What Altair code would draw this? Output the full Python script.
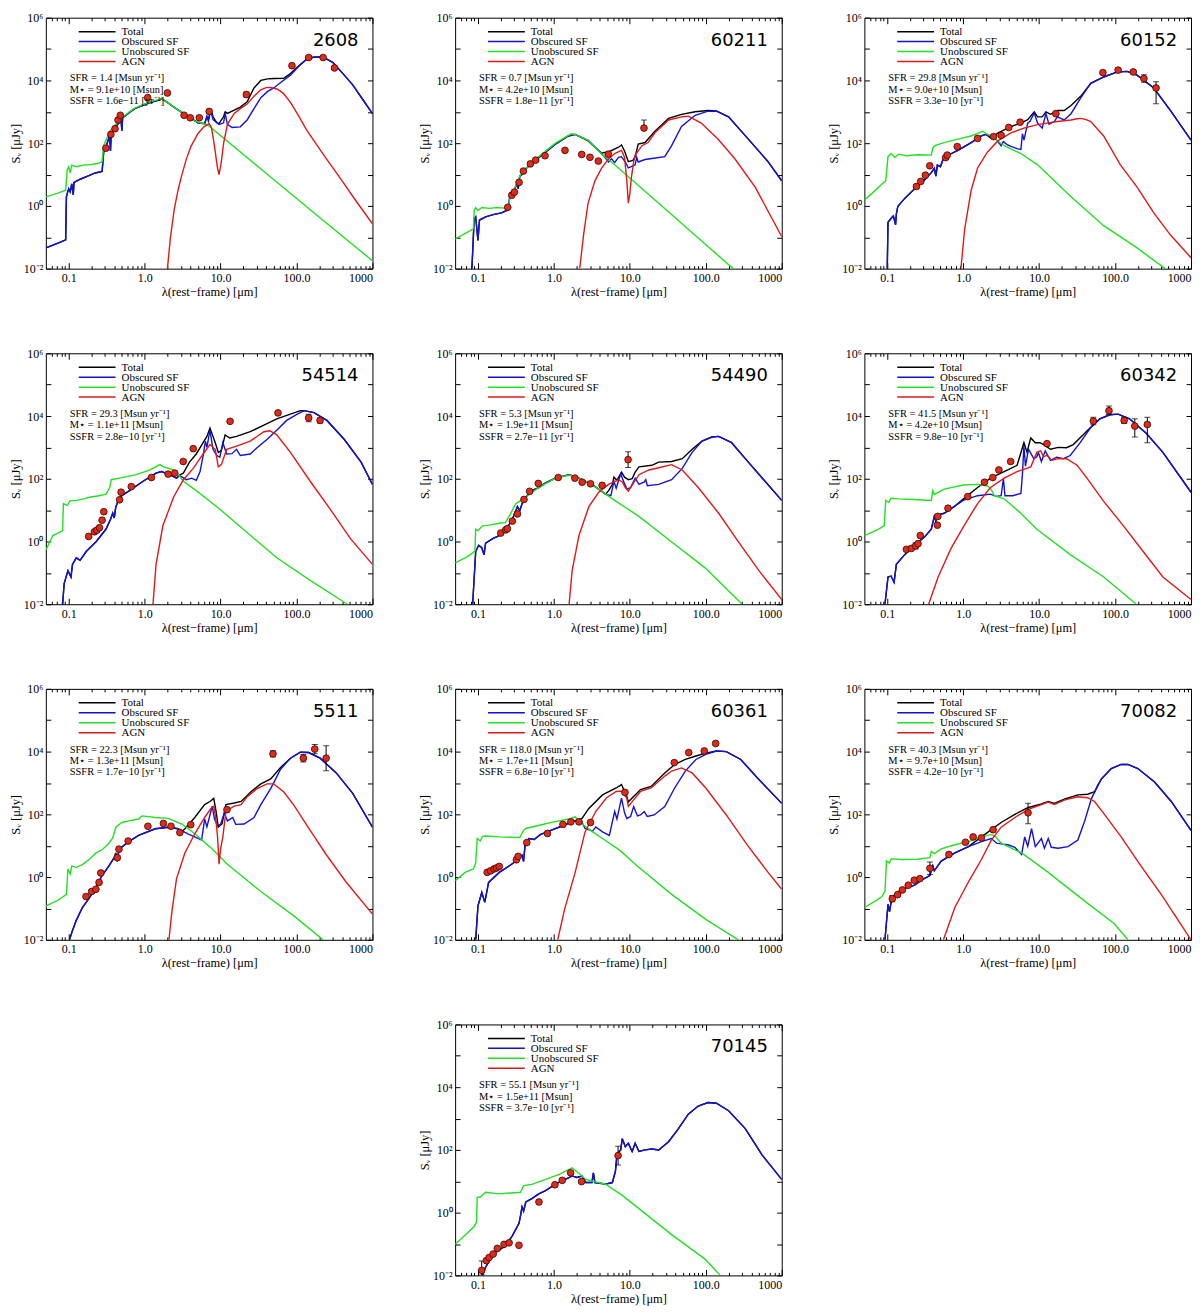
import altair as alt
import pandas as pd

# ---------------- shared labels / ticks ----------------
SERIES = ["Total", "Obscured SF", "Unobscured SF", "AGN"]
COLORS = ["#000000", "#1212d6", "#22e022", "#e01818"]

X_TICKS = [0.1, 1, 10, 100, 1000]
X_TICK_LABELS = ["0.1", "1.0", "10.0", "100.0", "1000"]
X_MINOR = [0.06, 0.07, 0.08, 0.09, 0.2, 0.3, 0.4, 0.5, 0.6, 0.7, 0.8, 0.9,
           2, 3, 4, 5, 6, 7, 8, 9, 20, 30, 40, 50, 60, 70, 80, 90,
           200, 300, 400, 500, 600, 700, 800, 900]
Y_TICKS = [1e-2, 1, 1e2, 1e4, 1e6]
Y_TICK_LABELS = ["10⁻²", "10⁰", "10²", "10⁴", "10⁶"]
Y_DECADES = [1e-2, 1e-1, 1, 10, 100, 1e3, 1e4, 1e5, 1e6]

X_TITLE = "λ(rest−frame) [μm]"
Y_TITLE = "Sᵥ [μJy]"

IDS = ["2608", "60211", "60152", "54514", "54490", "60342", "5511", "60361", "70082", "70145"]
SFR = ["1.4", "0.7", "29.8", "29.3", "5.3", "41.5", "22.3", "118.0", "40.3", "55.1"]
MSTAR = ["9.1e+10", "4.2e+10", "9.0e+10", "1.1e+11", "1.9e+11", "4.2e+10", "1.3e+11", "1.7e+11", "9.7e+10", "1.5e+11"]
SSFR = ["1.6e−11", "1.8e−11", "3.3e−10", "2.8e−10", "2.7e−11", "9.8e−10", "1.7e−10", "6.8e−10", "4.2e−10", "3.7e−10"]

# ---------------- curves: (log10 λ[µm], log10 S[µJy]) ----------------
# panel 2608
P2608_OBSC = [(-1.30,-1.34),(-1.10,-1.15),(-1.04,-1.08),(-1.03,0.30),(-1.00,0.55),(-0.98,0.45),(-0.96,0.70),(-0.94,0.35),(-0.93,0.75),(-0.85,0.85),(-0.75,0.95),(-0.65,1.05),(-0.56,1.10),(-0.54,1.70),(-0.50,1.95),(-0.46,2.25),(-0.45,1.75),(-0.44,2.30),(-0.40,2.45),(-0.35,2.62),(-0.31,2.72),(-0.30,2.40),(-0.29,2.80),(-0.20,2.98),(-0.13,3.10),(0.05,3.28),(0.20,3.38),(0.22,3.42),(0.30,3.30),(0.40,3.12),(0.48,3.00),(0.61,2.80),(0.70,2.65),(0.79,2.62),(0.82,2.85),(0.84,2.70),(0.87,3.05),(0.90,2.75),(0.98,2.60),(1.04,2.65),(1.06,2.95),(1.09,2.60),(1.15,2.50),(1.26,2.52),(1.35,2.74),(1.44,3.10),(1.53,3.45),(1.62,3.65),(1.70,3.76),(1.80,3.95),(1.92,4.17),(2.03,4.45),(2.13,4.67),(2.22,4.74),(2.31,4.75),(2.40,4.68),(2.48,4.57),(2.60,4.25),(2.74,3.86),(2.87,3.40),(3.00,2.94)]
P2608_UNOBSC = [(-1.30,0.29),(-1.15,0.40),(-1.04,0.50),(-1.02,1.15),(-1.00,1.25),(-0.98,1.05),(-0.96,1.30),(-0.90,1.25),(-0.80,1.30),(-0.70,1.32),(-0.62,1.35),(-0.56,1.41),(-0.54,1.92),(-0.50,2.15),(-0.45,2.40),(-0.40,2.55),(-0.35,2.68),(-0.30,2.80),(-0.20,3.00),(-0.13,3.12),(0.05,3.30),(0.22,3.42),(0.30,3.30),(0.48,3.00),(0.66,2.70),(0.83,2.58),(1.50,1.24),(2.20,-0.16),(3.00,-1.75)]
P2608_AGN = [(0.30,-2.00),(0.34,-1.00),(0.39,-0.10),(0.44,0.50),(0.48,0.90),(0.55,1.50),(0.61,1.90),(0.70,2.30),(0.78,2.52),(0.85,2.62),(0.88,2.50),(0.92,1.90),(0.96,1.20),(0.98,1.00),(1.01,1.40),(1.04,2.00),(1.09,2.60),(1.18,2.95),(1.26,3.10),(1.35,3.25),(1.44,3.50),(1.53,3.70),(1.60,3.77),(1.66,3.78),(1.75,3.72),(1.83,3.58),(1.92,3.30),(2.02,2.90),(2.13,2.43),(2.35,1.65),(2.57,0.90),(2.80,0.10),(3.00,-0.57)]
P2608_TOTAL_MID = [(0.84,2.75),(0.87,3.10),(0.90,2.85),(0.95,2.65),(0.98,2.62),(1.04,2.85),(1.06,3.00),(1.09,2.95),(1.18,3.05),(1.26,3.15),(1.35,3.32),(1.44,3.76),(1.53,4.00),(1.62,4.05),(1.70,4.06),(1.83,4.07),(1.92,4.22),(2.03,4.47)]
P2608_PTS = [(-0.51,1.84,0,0),(-0.445,2.28,0,0),(-0.39,2.46,0,0),(-0.35,2.74,0,0),(-0.32,2.89,0,0),(0.04,3.45,0,0),(0.30,3.60,0,0),(0.52,2.89,0,0),(0.60,2.81,0,0),(0.72,2.81,0,0),(0.85,3.01,0.05,0.05),(1.34,3.55,0.08,0.08),(1.94,4.47,0.05,0.05),(2.16,4.73,0.04,0.04),(2.35,4.73,0.04,0.04),(2.50,4.40,0.05,0.05)]

# panel 60211
P60211_OBSC = [(-1.08,-2.00),(-1.05,-0.42),(-1.03,-0.35),(-1.00,-1.10),(-0.98,-0.45),(-0.90,-0.35),(-0.80,-0.28),(-0.69,-0.22),(-0.60,-0.12),(-0.58,0.34),(-0.55,0.40),(-0.52,0.50),(-0.49,0.70),(-0.47,0.55),(-0.45,0.95),(-0.42,1.00),(-0.36,1.21),(-0.29,1.36),(-0.16,1.62),(0.02,1.97),(0.19,2.23),(0.28,2.28),(0.45,2.08),(0.63,1.67),(0.72,1.40),(0.76,1.50),(0.80,1.38),(0.85,1.55),(0.89,1.57),(0.94,1.40),(0.98,1.21),(1.02,1.25),(1.07,1.31),(1.09,1.55),(1.11,1.40),(1.20,1.48),(1.29,1.51),(1.46,1.57),(1.55,1.92),(1.68,2.53),(1.86,2.89),(2.03,3.02),(2.14,3.02),(2.30,2.84),(2.56,2.13),(2.82,1.41),(3.00,0.80)]
P60211_UNOBSC = [(-1.30,-1.05),(-1.15,-0.85),(-1.06,-0.73),(-1.05,-0.15),(-1.03,-0.05),(-1.00,-0.15),(-0.95,-0.05),(-0.85,-0.08),(-0.75,-0.05),(-0.65,-0.07),(-0.60,-0.05),(-0.58,0.27),(-0.52,0.55),(-0.45,0.95),(-0.36,1.21),(-0.29,1.40),(-0.16,1.65),(0.02,2.00),(0.19,2.25),(0.23,2.30),(0.28,2.28),(0.45,2.10),(0.63,1.65),(0.80,1.31),(1.50,-0.17),(2.36,-2.00)]
P60211_AGN = [(0.34,-2.00),(0.39,-0.93),(0.45,0.09),(0.54,0.80),(0.63,1.21),(0.72,1.50),(0.80,1.67),(0.89,1.77),(0.93,1.55),(0.96,0.80),(0.98,0.09),(1.00,0.40),(1.02,0.90),(1.05,1.40),(1.07,1.62),(1.16,1.92),(1.24,2.02),(1.33,2.33),(1.51,2.74),(1.68,2.84),(1.77,2.86),(1.94,2.64),(2.16,2.13),(2.38,1.51),(2.65,0.60),(3.00,-0.98)]
P60211_TOTAL_MID = [(0.65,1.70),(0.72,1.72),(0.85,1.87),(0.89,1.94),(0.93,1.75),(0.98,1.41),(1.04,1.45),(1.07,1.57),(1.11,1.97),(1.20,2.02),(1.33,2.38),(1.51,2.79),(1.68,2.92),(1.86,3.00),(2.03,3.04),(2.14,3.03)]
P60211_PTS = [(-0.608,-0.045,0,0),(-0.555,0.34,0,0),(-0.52,0.44,0,0),(-0.459,0.75,0,0),(-0.402,1.11,0,0),(-0.31,1.34,0,0),(-0.24,1.46,0,0),(-0.117,1.60,0,0),(0.146,1.77,0,0),(0.366,1.64,0,0),(0.475,1.55,0,0),(0.585,1.43,0,0),(0.716,1.65,0,0),(1.186,2.48,0,0.26)]

# panel 60152
P60152_OBSC = [(-1.00,-2.00),(-0.99,-0.52),(-0.95,-0.40),(-0.92,-0.32),(-0.89,-0.60),(-0.88,-0.25),(-0.86,-0.01),(-0.77,0.24),(-0.68,0.45),(-0.59,0.65),(-0.50,0.85),(-0.42,1.06),(-0.38,1.20),(-0.36,0.95),(-0.34,1.30),(-0.30,1.25),(-0.27,1.45),(-0.24,1.57),(-0.07,1.77),(0.105,2.02),(0.24,2.23),(0.30,2.28),(0.43,2.13),(0.50,1.92),(0.53,2.05),(0.58,1.95),(0.63,1.90),(0.72,1.82),(0.76,1.80),(0.78,2.30),(0.80,2.10),(0.85,2.64),(0.88,2.70),(0.935,2.96),(0.98,2.64),(1.04,2.48),(1.09,2.94),(1.13,2.60),(1.20,2.69),(1.24,2.84),(1.33,2.74),(1.42,2.94),(1.55,3.45),(1.68,3.91),(1.85,4.11),(2.03,4.27),(2.16,4.29),(2.29,4.17),(2.51,3.76),(2.73,3.04),(3.00,2.10)]
P60152_UNOBSC = [(-1.30,0.19),(-1.20,0.40),(-1.07,0.70),(-1.02,0.80),(-0.99,1.57),(-0.95,1.67),(-0.90,1.55),(-0.85,1.65),(-0.75,1.60),(-0.60,1.63),(-0.42,1.62),(-0.40,1.85),(-0.375,1.92),(-0.25,2.02),(-0.07,2.13),(0.105,2.23),(0.26,2.38),(0.30,2.30),(0.37,2.23),(0.54,1.92),(0.76,1.67),(0.98,1.31),(1.42,0.29),(1.85,-0.63),(2.29,-1.34),(2.66,-2.00)]
P60152_AGN = [(-0.03,-2.00),(0.02,-0.73),(0.105,0.50),(0.19,1.21),(0.32,1.72),(0.46,2.08),(0.63,2.33),(0.80,2.48),(0.98,2.59),(1.24,2.69),(1.42,2.74),(1.50,2.78),(1.55,2.79),(1.62,2.75),(1.68,2.69),(1.85,2.23),(2.07,1.31),(2.29,0.60),(2.51,-0.22),(2.73,-0.93),(3.00,-1.65)]
P60152_TOTAL_MID = [(0.37,2.15),(0.46,2.33),(0.63,2.53),(0.76,2.64),(0.85,2.75),(0.935,3.00),(0.98,2.84),(1.04,2.84),(1.09,3.00),(1.15,2.92),(1.24,3.04),(1.33,3.04),(1.42,3.20),(1.55,3.50)]
P60152_PTS = [(-0.615,0.62,0,0),(-0.559,0.78,0,0),(-0.497,0.98,0,0),(-0.44,1.28,0,0),(-0.231,1.54,0,0),(-0.21,1.62,0,0),(-0.078,1.89,0,0),(0.19,2.15,0,0),(0.40,2.21,0,0),(0.50,2.25,0,0),(0.60,2.50,0,0),(0.75,2.67,0,0),(1.22,2.94,0,0),(1.84,4.25,0.05,0.05),(2.04,4.33,0.04,0.04),(2.24,4.27,0.05,0.05),(2.38,4.06,0.12,0.12),(2.54,3.76,0.5,0.2)]

# panel 54514
P54514_OBSC = [(-1.08,-2.00),(-1.06,-1.34),(-1.01,-0.93),(-0.97,-1.13),(-0.95,-0.73),(-0.90,-0.52),(-0.85,-0.60),(-0.77,-0.32),(-0.64,-0.01),(-0.51,0.39),(-0.45,0.70),(-0.42,0.90),(-0.40,0.75),(-0.38,1.10),(-0.33,1.41),(-0.20,1.62),(-0.02,1.92),(0.15,2.18),(0.22,2.23),(0.33,2.13),(0.42,2.02),(0.46,2.10),(0.55,1.97),(0.62,2.02),(0.68,1.95),(0.73,2.23),(0.77,2.74),(0.80,3.20),(0.82,3.00),(0.86,3.55),(0.90,2.94),(0.95,2.74),(0.99,2.69),(1.03,3.15),(1.08,2.79),(1.15,2.80),(1.21,2.94),(1.26,2.74),(1.39,2.79),(1.48,2.99),(1.61,3.25),(1.74,3.55),(1.87,3.86),(2.01,4.06),(2.10,4.17),(2.23,4.11),(2.40,3.86),(2.63,3.25),(2.85,2.53),(3.00,1.82)]
P54514_UNOBSC = [(-1.30,-0.27),(-1.21,0.19),(-1.12,0.29),(-1.08,0.35),(-1.07,1.21),(-1.02,1.15),(-0.98,1.30),(-0.90,1.31),(-0.80,1.36),(-0.73,1.41),(-0.62,1.45),(-0.51,1.51),(-0.46,1.72),(-0.44,1.97),(-0.33,2.02),(-0.11,2.13),(0.07,2.28),(0.20,2.45),(0.25,2.38),(0.38,2.28),(0.46,2.08),(0.51,1.92),(0.68,1.62),(0.95,1.11),(1.30,0.39),(1.74,-0.52),(2.18,-1.24),(2.67,-2.00)]
P54514_AGN = [(0.11,-2.00),(0.15,-0.73),(0.24,0.50),(0.38,1.41),(0.51,1.97),(0.64,2.33),(0.77,2.79),(0.86,3.09),(0.93,2.94),(0.97,2.38),(1.01,2.45),(1.08,2.94),(1.21,3.04),(1.39,3.20),(1.57,3.50),(1.65,3.53),(1.74,3.40),(1.92,2.84),(2.18,1.92),(2.45,1.01),(2.71,0.09),(3.00,-0.73)]
P54514_TOTAL_MID = [(0.46,2.12),(0.51,2.18),(0.59,2.53),(0.68,2.79),(0.77,3.15),(0.82,3.35),(0.86,3.62),(0.93,3.15),(0.97,2.84),(1.01,2.90),(1.06,3.40),(1.12,3.30),(1.21,3.35),(1.39,3.50),(1.57,3.71),(1.74,3.91),(1.92,4.06),(2.05,4.17)]
P54514_PTS = [(-0.737,0.16,0,0),(-0.661,0.31,0,0),(-0.63,0.36,0,0),(-0.595,0.44,0,0),(-0.56,0.68,0,0),(-0.538,0.95,0,0),(-0.33,1.33,0,0),(-0.31,1.57,0,0),(-0.176,1.75,0,0),(0.089,2.04,0,0),(0.309,2.15,0,0),(0.397,2.18,0,0),(0.508,2.55,0,0),(0.64,2.96,0,0),(1.125,3.83,0,0),(1.756,4.10,0,0),(2.16,3.94,0.12,0.12),(2.31,3.86,0.08,0.08)]

# panel 54490
P54490_OBSC = [(-1.07,-2.00),(-1.03,-0.32),(-0.99,-0.12),(-0.95,-0.20),(-0.92,-0.42),(-0.90,-0.05),(-0.80,0.10),(-0.72,0.19),(-0.64,0.34),(-0.55,0.70),(-0.48,1.11),(-0.45,0.98),(-0.42,1.20),(-0.37,1.41),(-0.29,1.62),(-0.20,1.72),(-0.11,1.87),(0.02,2.02),(0.20,2.13),(0.33,2.02),(0.50,1.82),(0.68,1.51),(0.75,1.46),(0.79,1.92),(0.82,1.70),(0.88,2.15),(0.92,1.90),(0.96,1.67),(1.01,1.72),(1.07,2.02),(1.12,1.82),(1.19,1.90),(1.21,1.97),(1.23,1.78),(1.38,1.82),(1.55,1.97),(1.69,2.33),(1.82,2.84),(1.95,3.20),(2.08,3.33),(2.17,3.35),(2.34,3.15),(2.56,2.53),(2.78,1.92),(3.00,1.31)]
P54490_UNOBSC = [(-1.30,-0.68),(-1.15,-0.50),(-1.07,-0.37),(-1.04,-0.30),(-1.03,0.39),(-1.00,0.35),(-0.94,0.50),(-0.85,0.52),(-0.72,0.58),(-0.64,0.60),(-0.59,0.80),(-0.50,1.21),(-0.37,1.41),(-0.20,1.72),(0.02,2.02),(0.20,2.11),(0.29,2.06),(0.42,1.92),(0.59,1.67),(0.77,1.36),(1.12,0.80),(1.56,-0.03),(1.99,-0.84),(2.48,-2.00)]
P54490_AGN = [(0.20,-2.00),(0.24,-0.93),(0.33,0.19),(0.46,1.11),(0.59,1.57),(0.72,1.82),(0.85,1.97),(0.90,1.90),(0.94,1.72),(0.98,1.61),(1.03,1.80),(1.12,2.13),(1.25,2.28),(1.38,2.35),(1.55,2.45),(1.69,2.28),(1.90,1.72),(2.17,0.90),(2.43,-0.01),(2.70,-0.93),(3.00,-1.85)]
P54490_TOTAL_MID = [(0.72,1.62),(0.77,1.82),(0.79,2.05),(0.83,1.95),(0.89,2.21),(0.93,2.05),(0.98,1.97),(1.03,2.00),(1.07,2.21),(1.12,2.38),(1.29,2.43),(1.38,2.53),(1.55,2.55),(1.69,2.64),(1.82,2.94)]
P54490_PTS = [(-0.70,0.27,0,0),(-0.635,0.37,0,0),(-0.613,0.41,0,0),(-0.547,0.65,0,0),(-0.48,0.88,0,0),(-0.394,1.34,0,0),(-0.32,1.60,0,0),(-0.206,1.85,0,0),(0.057,2.04,0,0),(0.276,2.02,0,0),(0.372,1.89,0,0),(0.482,1.84,0,0),(0.635,1.79,0,0),(0.977,2.61,0.25,0.25)]

# panel 60342
P60342_OBSC = [(-1.03,-2.00),(-0.99,-1.13),(-0.95,-1.10),(-0.91,-1.30),(-0.88,-0.73),(-0.77,-0.42),(-0.64,-0.12),(-0.51,0.14),(-0.42,0.39),(-0.38,0.80),(-0.36,0.65),(-0.33,0.85),(-0.25,0.90),(-0.12,1.11),(0.00,1.31),(0.19,1.46),(0.36,1.51),(0.43,1.44),(0.50,1.46),(0.53,2.00),(0.55,1.46),(0.65,1.46),(0.76,1.53),(0.78,2.13),(0.80,3.04),(0.82,2.40),(0.86,2.94),(0.93,2.64),(0.97,2.70),(0.99,2.84),(1.03,2.55),(1.08,2.89),(1.15,2.59),(1.23,2.69),(1.32,2.64),(1.41,2.74),(1.54,3.15),(1.67,3.60),(1.80,3.91),(1.93,4.04),(2.04,4.06),(2.19,3.91),(2.41,3.45),(2.63,2.84),(3.00,1.57)]
P60342_UNOBSC = [(-1.30,0.19),(-1.12,0.39),(-1.04,0.50),(-1.02,1.31),(-0.98,1.25),(-0.95,1.38),(-0.86,1.36),(-0.65,1.34),(-0.42,1.31),(-0.40,1.62),(-0.38,1.50),(-0.25,1.67),(0.00,1.80),(0.19,1.82),(0.32,1.77),(0.36,1.70),(0.41,1.46),(0.54,1.36),(0.76,0.90),(0.97,0.39),(1.41,-0.42),(1.85,-1.13),(2.28,-2.00)]
P60342_AGN = [(-0.455,-2.00),(-0.33,-1.13),(-0.16,-0.22),(0.01,0.50),(0.19,1.21),(0.36,1.72),(0.54,2.02),(0.71,2.23),(0.89,2.38),(0.97,2.84),(1.02,2.89),(1.06,2.70),(1.10,2.75),(1.17,2.59),(1.25,2.64),(1.36,2.64),(1.50,2.43),(1.63,2.02),(1.84,1.31),(2.11,0.50),(2.37,-0.32),(2.63,-1.13),(3.00,-1.85)]
P60342_TOTAL_MID = [(0.00,1.35),(0.19,1.72),(0.36,2.02),(0.54,2.23),(0.71,2.43),(0.80,3.15),(0.84,2.85),(0.89,3.30),(0.95,3.15),(1.01,3.15),(1.06,3.09),(1.15,2.94),(1.25,3.00),(1.36,2.99),(1.45,3.09),(1.58,3.40),(1.71,3.71)]
P60342_PTS = [(-0.748,-0.25,0,0),(-0.682,-0.22,0,0),(-0.626,-0.14,0.1,0.1),(-0.595,-0.07,0,0),(-0.565,0.19,0,0),(-0.34,0.52,0,0),(-0.334,0.80,0,0),(-0.20,1.06,0,0),(0.06,1.43,0,0),(0.28,1.89,0,0),(0.39,2.04,0,0),(0.47,2.28,0,0),(0.625,2.55,0,0),(1.104,3.12,0,0),(1.714,3.84,0.12,0.12),(1.92,4.17,0.12,0.15),(2.12,3.86,0.1,0.1),(2.26,3.68,0.35,0.23),(2.425,3.73,0.58,0.23)]

# panel 5511
P5511_OBSC = [(-0.99,-2.00),(-0.95,-1.70),(-0.90,-1.38),(-0.82,-0.97),(-0.73,-0.67),(-0.64,-0.31),(-0.56,0.05),(-0.47,0.36),(-0.42,0.55),(-0.40,0.62),(-0.38,0.77),(-0.36,0.50),(-0.34,0.85),(-0.32,0.92),(-0.21,1.13),(-0.08,1.33),(0.14,1.54),(0.31,1.59),(0.44,1.54),(0.57,1.38),(0.66,1.28),(0.75,1.18),(0.79,1.85),(0.82,1.60),(0.89,2.26),(0.92,1.85),(0.96,1.64),(1.00,1.68),(1.05,2.05),(1.09,1.79),(1.16,1.90),(1.20,1.68),(1.31,1.69),(1.44,1.90),(1.53,2.31),(1.66,2.82),(1.79,3.44),(1.92,3.79),(2.05,3.98),(2.16,3.97),(2.31,3.79),(2.52,3.33),(2.74,2.67),(3.00,1.59)]
P5511_UNOBSC = [(-1.30,-0.92),(-1.15,-0.75),(-1.07,-0.62),(-1.03,-0.55),(-1.01,0.26),(-0.98,0.10),(-0.96,0.35),(-0.90,0.31),(-0.82,0.40),(-0.73,0.56),(-0.64,0.77),(-0.56,0.87),(-0.47,1.08),(-0.42,1.25),(-0.38,1.59),(-0.30,1.74),(-0.21,1.79),(-0.08,1.85),(-0.035,1.95),(0.14,1.90),(0.31,1.87),(0.49,1.69),(0.66,1.38),(0.88,0.92),(1.09,0.41),(1.53,-0.46),(1.96,-1.23),(2.35,-2.00)]
P5511_AGN = [(0.32,-2.00),(0.36,-1.08),(0.42,-0.05),(0.53,0.77),(0.66,1.38),(0.79,1.90),(0.88,2.21),(0.91,2.26),(0.94,1.80),(0.96,1.28),(0.98,0.41),(1.00,0.90),(1.03,1.28),(1.07,2.10),(1.18,2.26),(1.27,2.31),(1.35,2.56),(1.48,2.82),(1.61,2.97),(1.70,2.97),(1.83,2.72),(1.96,2.31),(2.18,1.49),(2.39,0.72),(2.65,-0.15),(3.00,-1.18)]
P5511_TOTAL_MID = [(0.49,1.45),(0.53,1.54),(0.66,1.90),(0.79,2.31),(0.86,2.41),(0.91,2.51),(0.94,2.10),(0.97,1.59),(1.02,1.70),(1.07,2.31),(1.18,2.36),(1.27,2.41),(1.40,2.72),(1.53,2.97),(1.66,3.13),(1.79,3.49)]
P5511_PTS = [(-0.772,-0.62,0,0),(-0.698,-0.46,0,0),(-0.642,-0.39,0,0),(-0.60,-0.17,0,0),(-0.577,0.13,0,0),(-0.36,0.62,0,0),(-0.338,0.89,0,0),(-0.217,1.15,0,0),(0.043,1.62,0,0),(0.247,1.71,0,0),(0.347,1.62,0,0),(0.464,1.42,0,0),(0.607,1.67,0,0),(1.084,2.15,0,0),(1.69,3.93,0.1,0.1),(2.09,3.79,0.12,0.12),(2.24,4.08,0.15,0.15),(2.39,3.79,0.4,0.4)]

# panel 60361
P60361_OBSC = [(-1.03,-2.00),(-1.00,-0.92),(-0.95,-0.49),(-0.91,-0.80),(-0.86,-0.17),(-0.72,0.15),(-0.58,0.37),(-0.49,0.53),(-0.42,0.69),(-0.40,0.50),(-0.38,1.01),(-0.33,1.23),(-0.26,1.20),(-0.18,1.35),(-0.04,1.49),(0.14,1.66),(0.28,1.80),(0.37,1.75),(0.41,1.55),(0.51,1.46),(0.55,1.60),(0.64,1.44),(0.73,1.33),(0.80,2.09),(0.83,1.85),(0.89,2.52),(0.93,2.05),(0.96,1.87),(1.01,1.93),(1.05,2.25),(1.10,1.95),(1.14,1.98),(1.19,2.09),(1.23,1.93),(1.32,1.98),(1.46,2.25),(1.59,2.84),(1.73,3.38),(1.87,3.75),(2.00,3.91),(2.14,4.02),(2.27,4.00),(2.46,3.75),(2.68,3.16),(3.00,2.35)]
P60361_UNOBSC = [(-1.30,-0.12),(-1.17,0.15),(-1.06,0.26),(-1.03,0.45),(-1.01,1.23),(-0.97,1.15),(-0.94,1.30),(-0.90,1.31),(-0.72,1.28),(-0.45,1.26),(-0.40,1.49),(-0.37,1.55),(-0.18,1.66),(0.00,1.76),(0.19,1.85),(0.28,1.92),(0.33,1.82),(0.39,1.66),(0.51,1.44),(0.64,1.23),(0.87,0.85),(1.09,0.37),(1.55,-0.55),(2.00,-1.35),(2.46,-2.05)]
P60361_AGN = [(0.05,-2.00),(0.14,-1.03),(0.28,0.15),(0.41,1.44),(0.55,2.09),(0.69,2.52),(0.82,2.73),(0.89,2.74),(0.96,2.52),(0.98,2.25),(1.05,2.46),(1.14,2.73),(1.28,2.84),(1.46,3.22),(1.55,3.38),(1.68,3.48),(1.82,3.32),(2.00,2.84),(2.27,1.98),(2.55,1.01),(2.82,0.15),(3.00,-0.39)]
P60361_TOTAL_MID = [(0.37,1.87),(0.46,2.19),(0.64,2.62),(0.82,2.84),(0.89,2.95),(0.96,2.57),(0.98,2.40),(1.05,2.57),(1.14,2.79),(1.28,2.89),(1.46,3.32),(1.59,3.59),(1.73,3.75),(1.87,3.86),(2.00,3.95)]
P60361_PTS = [(-0.879,0.15,0,0),(-0.834,0.20,0,0),(-0.788,0.26,0,0),(-0.757,0.29,0,0),(-0.72,0.34,0,0),(-0.494,0.55,0,0),(-0.471,0.66,0,0),(-0.357,1.10,0,0),(-0.085,1.39,0,0),(0.119,1.68,0,0),(0.223,1.76,0,0),(0.33,1.76,0,0),(0.482,1.74,0,0),(0.936,2.70,0,0),(1.585,3.65,0,0),(1.775,3.97,0,0),(1.98,4.02,0.05,0.05),(2.13,4.26,0.05,0.05)]

# panel 70082
P70082_OBSC = [(-1.03,-2.00),(-0.99,-0.87),(-0.97,-1.10),(-0.94,-0.67),(-0.85,-0.46),(-0.77,-0.36),(-0.64,-0.26),(-0.55,-0.10),(-0.44,0.05),(-0.40,0.36),(-0.38,0.20),(-0.29,0.51),(-0.11,0.77),(0.07,0.97),(0.24,1.13),(0.37,1.23),(0.44,1.08),(0.52,1.05),(0.59,1.03),(0.68,0.95),(0.77,0.72),(0.81,1.28),(0.85,0.98),(0.90,1.54),(0.95,0.97),(1.03,1.23),(1.07,0.92),(1.12,1.23),(1.16,0.95),(1.25,0.92),(1.38,0.97),(1.51,1.18),(1.60,1.79),(1.69,2.51),(1.82,3.13),(1.95,3.46),(2.08,3.59),(2.17,3.59),(2.30,3.46),(2.52,3.03),(2.74,2.41),(3.00,1.49)]
P70082_UNOBSC = [(-1.30,-0.97),(-1.15,-0.75),(-1.07,-0.62),(-1.03,-0.45),(-1.01,0.51),(-0.97,0.45),(-0.95,0.58),(-0.81,0.56),(-0.60,0.57),(-0.44,0.62),(-0.42,0.82),(-0.38,0.75),(-0.29,0.90),(-0.11,1.03),(0.07,1.13),(0.24,1.28),(0.37,1.36),(0.42,1.30),(0.50,1.08),(0.68,0.87),(0.77,0.77),(1.12,0.15),(1.55,-0.67),(1.99,-1.49),(2.17,-2.00)]
P70082_AGN = [(-0.26,-2.00),(-0.11,-0.97),(0.07,-0.15),(0.24,0.56),(0.37,1.18),(0.50,1.59),(0.68,1.90),(0.85,2.15),(1.03,2.31),(1.12,2.39),(1.20,2.31),(1.34,2.46),(1.51,2.56),(1.64,2.53),(1.73,2.41),(1.86,2.00),(2.08,1.28),(2.34,0.36),(2.61,-0.56),(3.00,-2.00)]
P70082_TOTAL_MID = [(0.24,1.28),(0.33,1.44),(0.50,1.74),(0.68,2.00),(0.85,2.21),(1.03,2.33),(1.12,2.41),(1.20,2.35),(1.34,2.49),(1.51,2.62),(1.64,2.64),(1.73,2.72),(1.77,2.92)]
P70082_PTS = [(-0.933,-0.69,0.1,0.1),(-0.863,-0.56,0,0),(-0.80,-0.41,0,0),(-0.723,-0.26,0,0),(-0.644,-0.10,0,0),(-0.57,-0.05,0,0),(-0.438,0.28,0.2,0.2),(-0.188,0.72,0,0),(0.03,1.11,0,0),(0.131,1.28,0,0),(0.24,1.25,0,0),(0.394,1.51,0,0),(0.854,2.05,0.35,0.3)]

# panel 70145 (no AGN component)
P70145_OBSC = [(-0.94,-2.00),(-0.90,-1.74),(-0.84,-1.50),(-0.77,-1.27),(-0.64,-1.06),(-0.55,-0.75),(-0.46,-0.34),(-0.44,-0.10),(-0.42,0.18),(-0.40,0.05),(-0.37,0.34),(-0.29,0.45),(-0.20,0.60),(-0.11,0.70),(0.02,0.91),(0.15,1.06),(0.24,1.17),(0.30,1.12),(0.37,1.17),(0.42,0.96),(0.50,0.96),(0.52,1.27),(0.54,0.96),(0.68,0.91),(0.77,0.96),(0.81,1.32),(0.83,1.84),(0.86,1.95),(0.88,2.00),(0.90,2.36),(0.94,2.10),(0.98,2.21),(1.03,1.95),(1.07,2.21),(1.12,1.95),(1.20,2.00),(1.29,2.03),(1.38,2.00),(1.51,2.26),(1.64,2.68),(1.77,3.14),(1.90,3.40),(2.03,3.51),(2.14,3.49),(2.30,3.25),(2.52,2.68),(2.74,1.84),(3.00,1.06)]
P70145_UNOBSC = [(-1.30,-1.01),(-1.16,-0.70),(-1.05,-0.44),(-1.02,-0.30),(-1.01,0.49),(-0.97,0.50),(-0.90,0.65),(-0.72,0.60),(-0.44,0.65),(-0.40,0.86),(-0.29,0.90),(-0.11,1.06),(0.07,1.22),(0.20,1.38),(0.24,1.43),(0.33,1.25),(0.42,1.06),(0.50,1.01),(0.68,0.91),(0.90,0.55),(1.12,0.13),(1.55,-0.70),(1.99,-1.48),(2.19,-2.00)]
P70145_AGN = []
P70145_TOTAL_MID = []
P70145_PTS = [(-0.951,-1.84,0.15,0.3),(-0.89,-1.53,0,0),(-0.854,-1.43,0,0),(-0.80,-1.32,0,0),(-0.745,-1.14,0,0),(-0.657,-1.01,0,0),(-0.59,-0.96,0,0),(-0.46,-1.04,0,0),(-0.197,0.34,0,0),(0.013,0.89,0,0),(0.11,1.03,0,0),(0.22,1.27,0,0),(0.364,0.99,0,0),(0.845,1.82,0.3,0.3)]

PANELS = [
    (P2608_OBSC, P2608_UNOBSC, P2608_AGN, P2608_TOTAL_MID, P2608_PTS),
    (P60211_OBSC, P60211_UNOBSC, P60211_AGN, P60211_TOTAL_MID, P60211_PTS),
    (P60152_OBSC, P60152_UNOBSC, P60152_AGN, P60152_TOTAL_MID, P60152_PTS),
    (P54514_OBSC, P54514_UNOBSC, P54514_AGN, P54514_TOTAL_MID, P54514_PTS),
    (P54490_OBSC, P54490_UNOBSC, P54490_AGN, P54490_TOTAL_MID, P54490_PTS),
    (P60342_OBSC, P60342_UNOBSC, P60342_AGN, P60342_TOTAL_MID, P60342_PTS),
    (P5511_OBSC, P5511_UNOBSC, P5511_AGN, P5511_TOTAL_MID, P5511_PTS),
    (P60361_OBSC, P60361_UNOBSC, P60361_AGN, P60361_TOTAL_MID, P60361_PTS),
    (P70082_OBSC, P70082_UNOBSC, P70082_AGN, P70082_TOTAL_MID, P70082_PTS),
    (P70145_OBSC, P70145_UNOBSC, P70145_AGN, P70145_TOTAL_MID, P70145_PTS),
]

# ---------------- chart construction ----------------
W, H = 328, 252
HSP = 44
SERIF = "Liberation Serif"
XS = alt.Scale(type="log", domain=[0.05, 1000], nice=False)
YS = alt.Scale(type="log", domain=[0.01, 1e6], nice=False)


def label_expr(ticks, labels):
    parts = [f"abs(datum.value/{t} - 1) < 0.01 ? '{lab}'" for t, lab in zip(ticks, labels)]
    return " : ".join(parts) + " : ''"


X_EXPR = label_expr(X_TICKS, X_TICK_LABELS)
Y_EXPR = label_expr(Y_TICKS, Y_TICK_LABELS)

common = dict(grid=False, domain=False, labelOverlap=False, tickColor="black")
AX_X = [
    alt.Axis(orient="bottom", values=X_TICKS, labelExpr=X_EXPR, tickSize={"expr": "-6"}, labelPadding=10,
             labelFlush=1, title=X_TITLE, titlePadding=2, **common),
    alt.Axis(orient="bottom", values=X_MINOR, labels=False, tickSize={"expr": "-3"}, title=None,
             minExtent=0, **common),
    alt.Axis(orient="top", values=X_TICKS, labels=False, tickSize={"expr": "-6"}, title=None,
             minExtent=0, **common),
    alt.Axis(orient="top", values=X_MINOR, labels=False, tickSize={"expr": "-3"}, title=None,
             minExtent=0, **common),
]
AX_Y = [
    alt.Axis(orient="left", values=Y_DECADES, labelExpr=Y_EXPR, tickSize={"expr": "-5"}, labelPadding=8,
             labelFlush=False, title=Y_TITLE, titlePadding=1, minExtent=0, **common),
    None,
    alt.Axis(orient="right", values=Y_DECADES, labels=False, tickSize={"expr": "-5"}, title=None,
             minExtent=0, **common),
    None,
]

ONE = pd.DataFrame({"k": [0]})


def line_df(pairs):
    return pd.DataFrame({
        "lam": [10 ** a for a, b in pairs],
        "flux": [10 ** b for a, b in pairs],
        "i": list(range(len(pairs))),
    })


def enc_xy(k):
    return dict(
        x=alt.X("lam:Q", scale=XS, axis=AX_X[k]),
        y=alt.Y("flux:Q", scale=YS, axis=AX_Y[k]),
    )


def make_panel(idx):
    obsc, unobsc, agn, mid, pts = PANELS[idx]
    if mid:
        total = [p for p in obsc if p[0] < mid[0][0]] + mid + [p for p in obsc if p[0] > mid[-1][0]]
    else:
        total = list(obsc)
    layers = []
    curves = [total, obsc, unobsc, agn]
    axis_slot = [0, 1, 2, None]
    for s, (pairs, col, slot) in enumerate(zip(curves, COLORS, axis_slot)):
        if not pairs:
            continue
        if slot is None:
            enc = dict(x=alt.X("lam:Q", scale=XS, axis=None), y=alt.Y("flux:Q", scale=YS, axis=None))
        else:
            enc = enc_xy(slot)
        layers.append(
            alt.Chart(line_df(pairs)).mark_line(color=col, strokeWidth=1.4, clip=True)
            .encode(order="i:Q", **enc)
        )
    # error bars
    err = [(a, b, lo, hi) for a, b, lo, hi in pts if lo > 0 or hi > 0]
    if err:
        edf = pd.DataFrame({
            "lam": [10 ** a for a, b, lo, hi in err],
            "lo": [10 ** (b - lo) for a, b, lo, hi in err],
            "hi": [10 ** (b + hi) for a, b, lo, hi in err],
        })
        ex = alt.X("lam:Q", scale=XS, axis=None)
        layers.append(alt.Chart(edf).mark_rule(color="black", strokeWidth=1, clip=True).encode(
            x=ex, y=alt.Y("lo:Q", scale=YS, axis=None), y2="hi:Q"))
        for fld in ["lo", "hi"]:
            layers.append(alt.Chart(edf).mark_tick(color="black", orient="horizontal", size=6, thickness=1, clip=True)
                          .encode(x=ex, y=alt.Y(f"{fld}:Q", scale=YS, axis=None)))
    # data points
    pdf = pd.DataFrame({"lam": [10 ** a for a, b, lo, hi in pts], "flux": [10 ** b for a, b, lo, hi in pts]})
    layers.append(alt.Chart(pdf).mark_circle(size=46, color="#e02a1a", opacity=1, stroke="#3a0800", strokeWidth=0.8)
                  .encode(**enc_xy(3)))
    # legend
    for s, (name, col) in enumerate(zip(SERIES, COLORS)):
        layers.append(alt.Chart(ONE).mark_rule(color=col, strokeWidth=1.5).encode(
            x=alt.value(33), x2=alt.value(70), y=alt.value(14 + 10 * s)))
    layers.append(alt.Chart(ONE).mark_text(
        text="\n".join(SERIES), lineBreak="\n", lineHeight=10, align="left", baseline="top",
        font=SERIF, fontSize=11, color="black").encode(x=alt.value(76), y=alt.value(8.5)))
    stats = f"SFR = {SFR[idx]} [Msun yr⁻¹]\nM⋆ = {MSTAR[idx]} [Msun]\nSSFR = {SSFR[idx]} [yr⁻¹]"
    layers.append(alt.Chart(ONE).mark_text(
        text=stats, lineBreak="\n", lineHeight=11.5, align="left", baseline="top",
        font=SERIF, fontSize=10.5, color="black").encode(x=alt.value(24), y=alt.value(56)))
    layers.append(alt.Chart(ONE).mark_text(
        text=IDS[idx], align="right", baseline="middle", font="DejaVu Sans", fontSize=18, color="black")
        .encode(x=alt.value(W - 14), y=alt.value(23)))
    return alt.layer(*layers).resolve_axis(x="independent", y="independent").properties(width=W, height=H)


panels = [make_panel(i) for i in range(len(PANELS))]

# invisible spacer so the last panel sits under the middle column
spacer = (
    alt.Chart(ONE).mark_point(opacity=0)
    .encode(x=alt.value(0), y=alt.value(0))
    .properties(width=W, height=H, view=alt.ViewBackground(stroke="transparent"))
)

rows = [
    alt.hconcat(*panels[0:3], spacing=HSP),
    alt.hconcat(*panels[3:6], spacing=HSP),
    alt.hconcat(*panels[6:9], spacing=HSP),
    alt.hconcat(spacer, panels[9], spacing=HSP),
]
chart = (
    alt.vconcat(*rows, spacing=48)
    .properties(padding=0)
    .configure_view(stroke="black", strokeWidth=1)
    .configure_axis(labelFont=SERIF, titleFont=SERIF, labelFontSize=12, titleFontSize=12.5,
                    titleFontWeight="normal", labelColor="black", titleColor="black")
)
chart.save("out.html", embed_options={"renderer": "svg", "actions": False})
